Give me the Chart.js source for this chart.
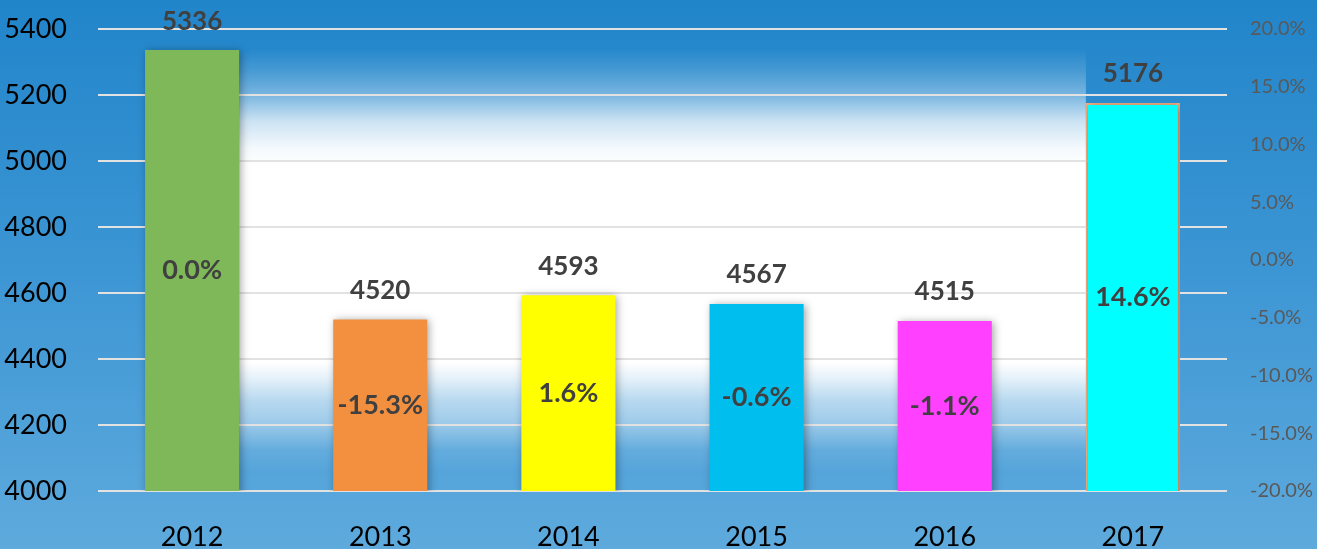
<!DOCTYPE html>
<html lang="en">
<head>
  <meta charset="UTF-8" />
  <title>Yearly totals</title>
  <script src="https://cdn.jsdelivr.net/npm/chart.js"></script>
  <style>
    html, body {
      margin: 0;
      padding: 0;
      background: #3d95d4;
    }
    .chart-container {
      width: 1317px;
      height: 549px;
    }
  </style>
</head>
<body>
  <div class="chart-container">
    <canvas id="yearChart"></canvas>
  </div>

  <script>
    const years = ['2012', '2013', '2014', '2015', '2016', '2017'];
    const totals = [5336, 4520, 4593, 4567, 4515, 5176];
    const changes = ['0.0%', '-15.3%', '1.6%', '-0.6%', '-1.1%', '14.6%'];
    const barColors = ['#7fb858', '#f2903f', '#ffff00', '#00bfef', '#ff40ff', '#00ffff'];
    const barBorders = ['#7fb858', '#f2903f', '#ffff00', '#00bfef', '#ff40ff', '#f4b183'];

    // background: blue sheet with a white glow between first and last bar
    const backdrop = {
      id: 'backdrop',
      beforeDraw(chart) {
        const { ctx, width, height } = chart;
        const bg = ctx.createLinearGradient(0, 0, 0, height);
        bg.addColorStop(0, '#2185ca');
        bg.addColorStop(0.5, '#3d96d4');
        bg.addColorStop(1, '#5eaadd');
        ctx.save();
        ctx.fillStyle = bg;
        ctx.fillRect(0, 0, width, height);

        const bars = chart.getDatasetMeta(0).data;
        if (bars.length) {
          const x0 = bars[0].x + bars[0].width / 2;
          const last = bars[bars.length - 1];
          const x1 = last.x - last.width / 2;
          const glow = ctx.createLinearGradient(0, 0, 0, height);
          glow.addColorStop(0.09, 'rgba(255,255,255,0)');
          glow.addColorStop(0.13, 'rgba(255,255,255,0.15)');
          glow.addColorStop(0.17, 'rgba(255,255,255,0.35)');
          glow.addColorStop(0.22, 'rgba(255,255,255,0.75)');
          glow.addColorStop(0.27, 'rgba(255,255,255,0.95)');
          glow.addColorStop(0.30, 'rgba(255,255,255,1)');
          glow.addColorStop(0.66, 'rgba(255,255,255,1)');
          glow.addColorStop(0.69, 'rgba(255,255,255,0.85)');
          glow.addColorStop(0.73, 'rgba(255,255,255,0.6)');
          glow.addColorStop(0.77, 'rgba(255,255,255,0.45)');
          glow.addColorStop(0.82, 'rgba(255,255,255,0.1)');
          glow.addColorStop(0.86, 'rgba(255,255,255,0)');
          ctx.fillStyle = glow;
          ctx.fillRect(x0, 0, x1 - x0, chart.chartArea.bottom);
        }
        ctx.restore();
      }
    };

    const barShadow = {
      id: 'barShadow',
      beforeDatasetDraw(chart) {
        const ctx = chart.ctx;
        ctx.save();
        ctx.shadowColor = 'rgba(0,0,0,0.35)';
        ctx.shadowBlur = 8;
        ctx.shadowOffsetX = 2;
        ctx.shadowOffsetY = 1;
      },
      afterDatasetDraw(chart) {
        chart.ctx.restore();
      }
    };

    const barLabels = {
      id: 'barLabels',
      afterDatasetsDraw(chart) {
        const ctx = chart.ctx;
        const bars = chart.getDatasetMeta(0).data;
        const base = chart.scales.y.getPixelForValue(chart.scales.y.min);
        ctx.save();
        ctx.fillStyle = '#404040';
        ctx.textAlign = 'center';
        ctx.textBaseline = 'middle';
        bars.forEach((bar, i) => {
          const p = bar.getProps(['x', 'y'], true);
          ctx.font = 'bold 26px Lato';
          ctx.fillText(String(totals[i]), p.x, p.y - 29);
          ctx.font = 'bold 27px Lato';
          ctx.fillText(changes[i], p.x, (p.y + base) / 2);
        });
        ctx.restore();
      }
    };

    function noVerticalPadding(scale) {
      scale.paddingTop = 0;
      scale.paddingBottom = 0;
    }

    const ctx = document.getElementById('yearChart').getContext('2d');
    new Chart(ctx, {
      type: 'bar',
      data: {
        labels: years,
        datasets: [{
          label: 'Total',
          data: totals,
          backgroundColor: barColors,
          borderColor: barBorders,
          borderWidth: [0, 0, 0, 0, 0, 2],
          barPercentage: 0.5,
          categoryPercentage: 1,
          yAxisID: 'y'
        }]
      },
      options: {
        responsive: true,
        maintainAspectRatio: false,
        animation: false,
        layout: { padding: { top: 29, left: 0, right: 0, bottom: 0 } },
        plugins: {
          legend: { display: false },
          tooltip: { enabled: false }
        },
        scales: {
          x: {
            grid: { display: false },
            border: { display: false },
            ticks: {
              color: '#000000',
              font: { family: 'Lato', size: 27 },
              padding: 22
            },
            afterFit(scale) { scale.height = 58; }
          },
          y: {
            position: 'left',
            min: 4000,
            max: 5400,
            grid: { color: '#e2e2e2', lineWidth: 2, drawTicks: false },
            border: { display: false },
            ticks: {
              stepSize: 200,
              color: '#000000',
              font: { family: 'Lato', size: 27 },
              padding: 31,
              callback: v => String(v)
            },
            afterFit(scale) { scale.width = 98; noVerticalPadding(scale); }
          },
          y1: {
            position: 'right',
            min: -20,
            max: 20,
            grid: { display: false, drawTicks: false },
            border: { display: false },
            ticks: {
              stepSize: 5,
              color: '#595959',
              font: { family: 'Lato', size: 20 },
              padding: 23,
              callback: v => v.toFixed(1) + '%'
            },
            afterFit(scale) { scale.width = 90; noVerticalPadding(scale); }
          }
        }
      },
      plugins: [backdrop, barShadow, barLabels]
    });
  </script>
</body>
</html>
